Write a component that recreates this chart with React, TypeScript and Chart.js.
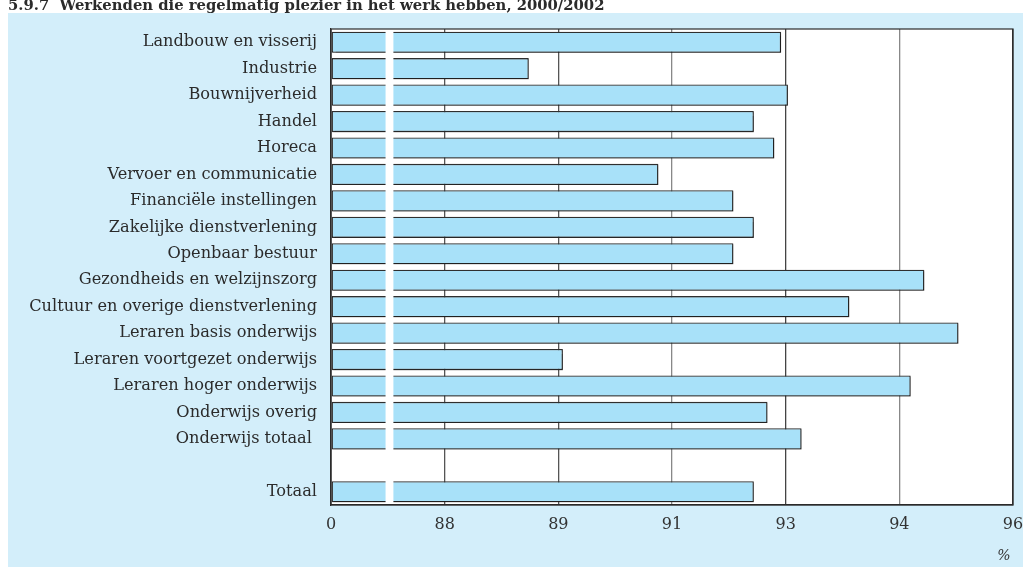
import React, { useEffect, useRef } from "react";
import { Chart, registerables } from "chart.js";

Chart.register(...registerables);

const title = "5.9.7  Werkenden die regelmatig plezier in het werk hebben, 2000/2002";
const unitLabel = "%";

const categories = [
  "Landbouw en visserij",
  "Industrie",
  "Bouwnijverheid",
  "Handel",
  "Horeca",
  "Vervoer en communicatie",
  "Financiële instellingen",
  "Zakelijke dienstverlening",
  "Openbaar bestuur",
  "Gezondheids en welzijnszorg",
  "Cultuur en overige dienstverlening",
  "Leraren basis onderwijs",
  "Leraren voortgezet onderwijs",
  "Leraren hoger onderwijs",
  "Onderwijs overig",
  "Onderwijs totaal ",
  "",
  "Totaal",
];

const values: (number | null)[] = [
  92.6, 88.9, 92.7, 92.2, 92.5, 90.8, 91.9, 92.2, 91.9, 94.7, 93.6, 95.2, 89.4, 94.5, 92.4, 92.9, null, 92.2,
];

// broken axis: 86..96, labelled as in the original
const axisMin = 86;
const axisMax = 96;
const tickValues = [86, 86 + 10 / 6, 86 + 20 / 6, 91, 86 + 40 / 6, 86 + 50 / 6, 96];
const tickLabels = ["0", "88", "89", "91", "93", "94", "96"];
const gridColors = ["#333", "#555", "#555", "#888", "#444", "#888", "#333"];
const breakFrom = 86.8;
const breakTo = 86.915;

const FONT = "'DejaVu Serif', serif";

const decorPlugin = {
  id: "decor",
  beforeDraw(chart: any) {
    const { ctx, chartArea } = chart;
    ctx.save();
    ctx.fillStyle = "#d3eefa";
    ctx.fillRect(8, 13, chart.width - 8, chart.height - 13);
    ctx.fillStyle = "#ffffff";
    ctx.fillRect(chartArea.left, chartArea.top, chartArea.right - chartArea.left, chartArea.bottom - chartArea.top);
    ctx.fillStyle = "#2b2b2b";
    ctx.font = `bold 14.8px ${FONT}`;
    ctx.textBaseline = "alphabetic";
    ctx.textAlign = "left";
    ctx.fillText(title, 8, 9.5);
    ctx.restore();
  },
  beforeDatasetDraw(chart: any) {
    const ctx = chart.ctx;
    ctx.save();
    ctx.shadowColor = "rgba(0,0,0,0.35)";
    ctx.shadowOffsetX = 1;
    ctx.shadowOffsetY = 1;
    ctx.shadowBlur = 1;
  },
  afterDatasetDraw(chart: any) {
    chart.ctx.restore();
  },
  afterDatasetsDraw(chart: any) {
    const { ctx, chartArea, scales } = chart;
    const x1 = scales.x.getPixelForValue(breakFrom);
    const x2 = scales.x.getPixelForValue(breakTo);
    ctx.save();
    ctx.fillStyle = "#ffffff";
    ctx.fillRect(x1, chartArea.top + 1, x2 - x1, chartArea.bottom - chartArea.top - 3);
    ctx.strokeStyle = "#2b2b2b";
    ctx.lineWidth = 1.2;
    ctx.strokeRect(chartArea.left, chartArea.top, chartArea.right - chartArea.left, chartArea.bottom - chartArea.top);
    ctx.restore();
  },
  afterDraw(chart: any) {
    const { ctx } = chart;
    ctx.save();
    ctx.fillStyle = "#333";
    ctx.font = `italic 14px ${FONT}`;
    ctx.textAlign = "center";
    ctx.textBaseline = "middle";
    ctx.fillText(unitLabel, chart.scales.x.right - 9, 556);
    ctx.restore();
  },
};

export default function App() {
  const ref = useRef<HTMLCanvasElement>(null);
  useEffect(() => {
    if (!ref.current) return;
    const chart = new Chart(ref.current, {
      type: "bar",
      data: {
        labels: categories,
        datasets: [
          {
            data: values as any,
            base: axisMin,
            backgroundColor: "#a8e1f9",
            borderColor: "#2f2f2f",
            borderWidth: 1.3,
            borderSkipped: false,
            categoryPercentage: 1,
            barPercentage: 0.8,
          } as any,
        ],
      },
      plugins: [decorPlugin],
      options: {
        indexAxis: "y",
        animation: false,
        responsive: false,
        events: [],
        layout: { padding: { top: 29, right: 10, left: 0, bottom: 0 } },
        plugins: { legend: { display: false }, tooltip: { enabled: false }, title: { display: false } },
        scales: {
          x: {
            type: "linear",
            min: axisMin,
            max: axisMax,
            afterBuildTicks: (scale: any) => {
              scale.ticks = tickValues.map((v) => ({ value: v }));
            },
            afterFit: (scale: any) => {
              scale.height = 62;
              scale.paddingRight = 0;
              scale.paddingLeft = 0;
            },
            ticks: {
              callback: (_v: any, i: number) => tickLabels[i],
              font: { family: FONT, size: 16 },
              color: "#333",
              padding: 10,
              maxRotation: 0,
              autoSkip: false,
            },
            grid: {
              color: (c: any) => gridColors[c.index] || "#555",
              lineWidth: 1.3,
              drawTicks: false,
            },
            border: { display: true, color: "#2b2b2b", width: 1.2 },
          },
          y: {
            afterFit: (scale: any) => {
              scale.width = 331;
            },
            ticks: {
              font: { family: FONT, size: 16.2 },
              color: "#2b2b2b",
              padding: 14,
              autoSkip: false,
            },
            grid: { display: false, drawTicks: false },
            border: { display: true, color: "#2b2b2b", width: 1.2 },
          },
        },
      },
    });
    return () => chart.destroy();
  }, []);
  return (
    <div style={{ position: "fixed", left: 0, top: 0, width: 1023, height: 567 }}>
      <canvas ref={ref} width={1023} height={567} />
    </div>
  );
}
